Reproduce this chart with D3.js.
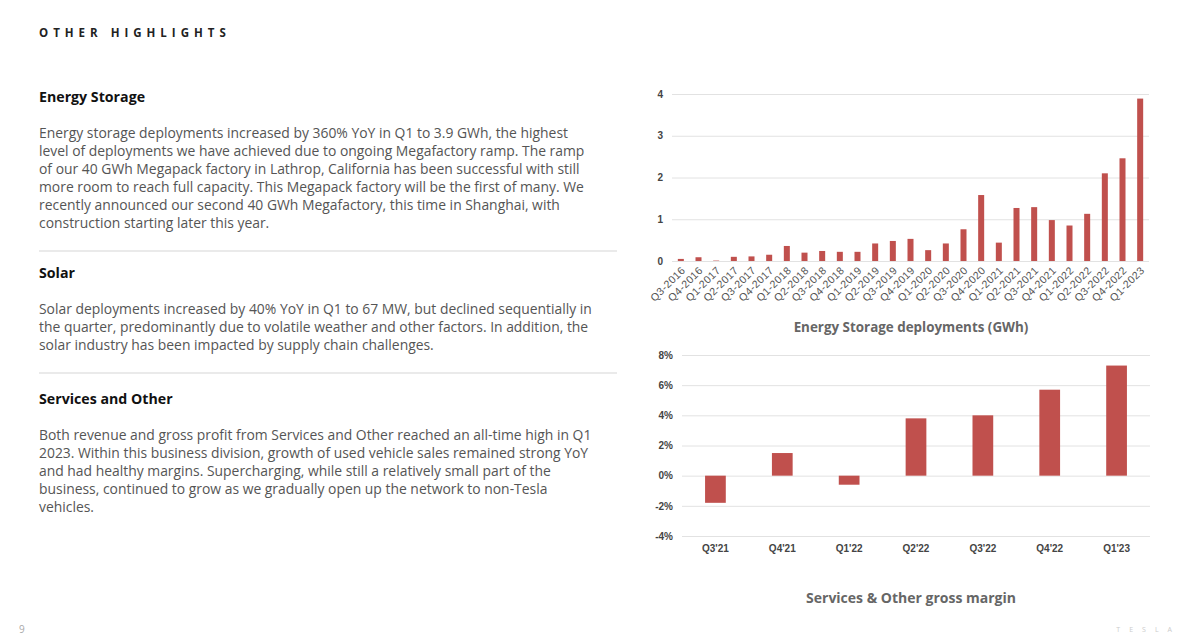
<html>
<head>
<script src="https://cdnjs.cloudflare.com/ajax/libs/d3/7.8.5/d3.min.js"></script>
<style>
  body { margin: 0; background: #fff; }
  svg { display: block; font-family: "Open Sans", sans-serif; }
  .grid line { stroke: #e2e2e2; stroke-width: 1; }
  .grid .domain { display: none; }
  .ylab text { fill: #444; font-size: 10px; font-weight: 700; }
  .xlab text { fill: #444; font-size: 10px; font-weight: 600; }
  .xlab .domain, .xlab line { display: none; }
</style>
</head>
<body>
<svg id="page" width="1193" height="637"></svg>
<script>
// energy storage deployments, GWh
var esQuarters = ['Q3-2016','Q4-2016','Q1-2017','Q2-2017','Q3-2017','Q4-2017',
  'Q1-2018','Q2-2018','Q3-2018','Q4-2018','Q1-2019','Q2-2019','Q3-2019','Q4-2019',
  'Q1-2020','Q2-2020','Q3-2020','Q4-2020','Q1-2021','Q2-2021','Q3-2021','Q4-2021',
  'Q1-2022','Q2-2022','Q3-2022','Q4-2022','Q1-2023'];
var esValues = [0.05, 0.09, 0.01, 0.1, 0.11, 0.15, 0.36, 0.2, 0.24, 0.22, 0.22, 0.42,
  0.48, 0.53, 0.26, 0.42, 0.76, 1.58, 0.44, 1.27, 1.29, 0.98, 0.85, 1.13, 2.1, 2.46, 3.89];
var esTicks = [0, 1, 2, 3, 4];

// services & other gross margin, %
var soQuarters = ["Q3'21", "Q4'21", "Q1'22", "Q2'22", "Q3'22", "Q4'22", "Q1'23"];
var soValues = [-1.8, 1.5, -0.6, 3.8, 4.0, 5.7, 7.3];
var soTicks = [-4, -2, 0, 2, 4, 6, 8];

var sections = [
  { head: 'Energy Storage', y: 102, lines: [
    'Energy storage deployments increased by 360% YoY in Q1 to 3.9 GWh, the highest',
    'level of deployments we have achieved due to ongoing Megafactory ramp. The ramp',
    'of our 40 GWh Megapack factory in Lathrop, California has been successful with still',
    'more room to reach full capacity. This Megapack factory will be the first of many. We',
    'recently announced our second 40 GWh Megafactory, this time in Shanghai, with',
    'construction starting later this year.'] },
  { head: 'Solar', y: 278, lines: [
    'Solar deployments increased by 40% YoY in Q1 to 67 MW, but declined sequentially in',
    'the quarter, predominantly due to volatile weather and other factors. In addition, the',
    'solar industry has been impacted by supply chain challenges.'] },
  { head: 'Services and Other', y: 404, lines: [
    'Both revenue and gross profit from Services and Other reached an all-time high in Q1',
    '2023. Within this business division, growth of used vehicle sales remained strong YoY',
    'and had healthy margins. Supercharging, while still a relatively small part of the',
    'business, continued to grow as we gradually open up the network to non-Tesla',
    'vehicles.'] }
];

var barColor = '#c0504d';
var svg = d3.select('#page');

// ---- left text column
svg.append('text').attr('x', 39).attr('y', 37)
  .attr('fill', '#222').attr('font-size', 11.5).attr('font-weight', 700)
  .attr('letter-spacing', 5).text('OTHER HIGHLIGHTS');

sections.forEach(function(s, i) {
  svg.append('text').attr('x', 39).attr('y', s.y)
    .attr('fill', '#111').attr('font-size', 14.2).attr('font-weight', 700)
    .text(s.head);
  svg.append('g').selectAll('text').data(s.lines).enter().append('text')
    .attr('x', 39).attr('y', function(d, j) { return s.y + 36 + j * 18; })
    .attr('fill', '#555').attr('font-size', 13.9)
    .text(function(d) { return d; });
  if (i < sections.length - 1) {
    svg.append('line').attr('x1', 39).attr('x2', 617)
      .attr('y1', s.y + 36 + (s.lines.length - 1) * 18 + 23)
      .attr('y2', s.y + 36 + (s.lines.length - 1) * 18 + 23)
      .attr('stroke', '#d6d6d6').attr('stroke-width', 1.2);
  }
});

svg.append('text').attr('x', 19).attr('y', 633).attr('fill', '#aaa')
  .attr('font-size', 10).text('9');
svg.append('text').attr('x', 1181).attr('y', 632).attr('text-anchor', 'end')
  .attr('fill', '#ccc').attr('font-size', 7).attr('letter-spacing', 9)
  .text('TESLA');

// ---- top chart: energy storage
var x1 = d3.scaleBand().domain(esQuarters).range([672, 1149]).paddingInner(0.66).paddingOuter(0.33);
var y1 = d3.scaleLinear().domain([0, 4]).range([261, 94]);

svg.append('g').attr('class', 'grid ylab').attr('transform', 'translate(672,0)')
  .call(d3.axisLeft(y1).tickValues(esTicks).tickSize(-477).tickPadding(9).tickFormat(d3.format('d')));

svg.append('g').selectAll('rect').data(esValues).enter().append('rect')
  .attr('x', function(d, i) { return x1(esQuarters[i]); })
  .attr('y', function(d) { return y1(d); })
  .attr('width', x1.bandwidth())
  .attr('height', function(d) { return y1(0) - y1(d); })
  .attr('fill', barColor);

var xa1 = svg.append('g').attr('class', 'xlab').attr('transform', 'translate(0,261)')
  .call(d3.axisBottom(x1).tickSize(0).tickPadding(0));
xa1.selectAll('text')
  .attr('text-anchor', 'end').attr('dy', 0)
  .attr('transform', 'translate(5,10) rotate(-45)')
  .style('font-size', '10.6px').style('letter-spacing', '0.4px')
  .style('font-weight', 400).style('fill', '#555');

svg.append('text').attr('x', 911).attr('y', 332).attr('text-anchor', 'middle')
  .attr('fill', '#666').attr('font-size', 13.4).attr('font-weight', 700)
  .text('Energy Storage deployments (GWh)');

// ---- bottom chart: services & other gross margin
var x2 = d3.scaleBand().domain(soQuarters).range([682, 1150]).paddingInner(0.69).paddingOuter(0.345);
var y2 = d3.scaleLinear().domain([-4, 8]).range([536, 355]);

svg.append('g').attr('class', 'grid ylab').attr('transform', 'translate(682,0)')
  .call(d3.axisLeft(y2).tickValues(soTicks).tickSize(-468).tickPadding(9)
    .tickFormat(function(d) { return d + '%'; }));

svg.append('g').selectAll('rect').data(soValues).enter().append('rect')
  .attr('x', function(d, i) { return x2(soQuarters[i]); })
  .attr('y', function(d) { return y2(Math.max(0, d)); })
  .attr('width', x2.bandwidth())
  .attr('height', function(d) { return Math.abs(y2(d) - y2(0)); })
  .attr('fill', barColor);

svg.append('g').attr('class', 'xlab').attr('transform', 'translate(0,536)')
  .call(d3.axisBottom(x2).tickSize(0).tickPadding(9));

svg.append('text').attr('x', 911).attr('y', 603).attr('text-anchor', 'middle')
  .attr('fill', '#666').attr('font-size', 14).attr('font-weight', 700)
  .text('Services & Other gross margin');
</script>
</body>
</html>
